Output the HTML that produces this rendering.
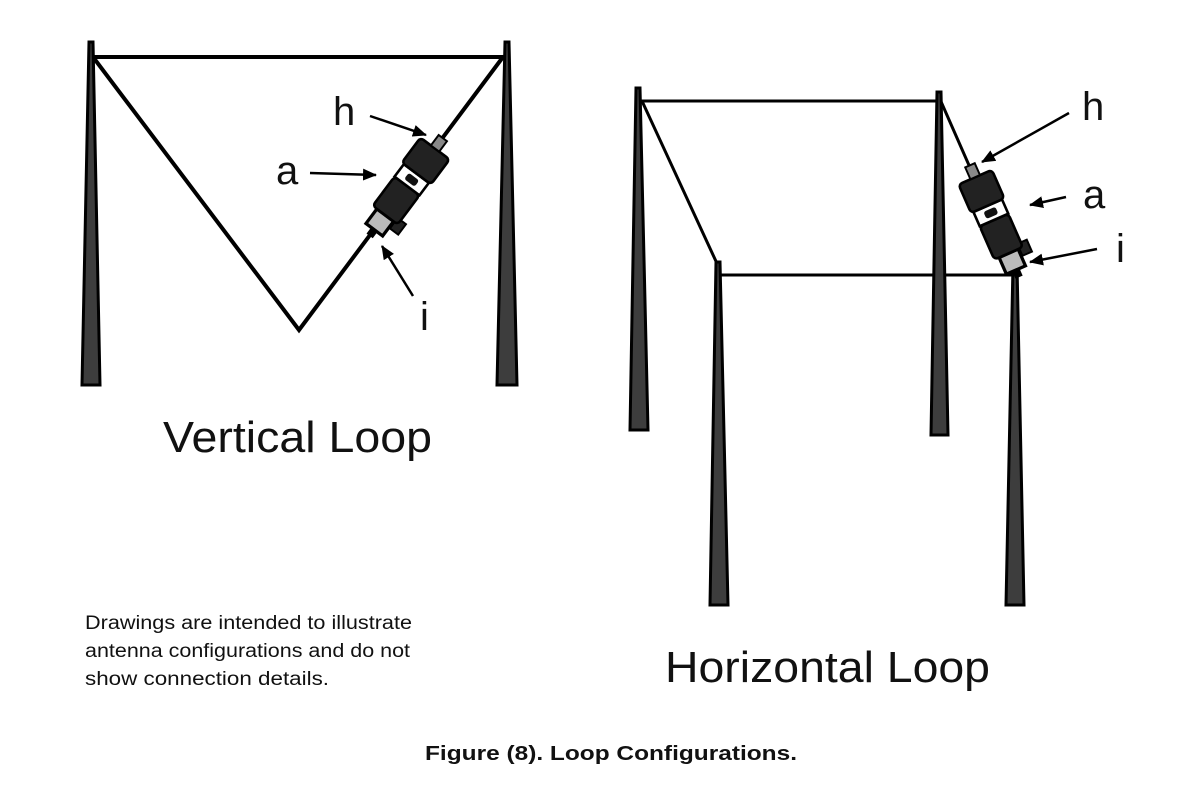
<!DOCTYPE html>
<html><head><meta charset="utf-8"><style>
html,body{margin:0;padding:0;background:#fff}
svg{display:block}
text{font-family:"Liberation Sans",sans-serif;fill:#111}
</style></head><body>
<svg width="1200" height="811" viewBox="0 0 1200 811" xmlns="http://www.w3.org/2000/svg">
<defs>
<marker id="ar" markerWidth="14" markerHeight="12" refX="13" refY="6" orient="auto" markerUnits="userSpaceOnUse"><path d="M0,0 L14,6 L0,12 z" fill="#000"/></marker>
<g id="dev">
  <rect x="-48" y="-3" width="8" height="6" fill="#000"/>
  <rect x="-42" y="-8" width="14" height="16" fill="#bbb" stroke="#000" stroke-width="2.5"/>
  <rect x="-34" y="9" width="10" height="8" fill="#222" stroke="#000" stroke-width="1.5"/>
  <rect x="-28" y="-12" width="28" height="24" rx="3" fill="#222" stroke="#000" stroke-width="2"/>
  <rect x="0" y="-12" width="12" height="24" fill="#fff" stroke="#000" stroke-width="2"/>
  <rect x="3" y="-5" width="6" height="10" rx="2" fill="#111"/>
  <rect x="12" y="-14" width="24" height="28" rx="3" fill="#222" stroke="#000" stroke-width="2"/>
  <rect x="36" y="-4" width="10" height="8" fill="#888" stroke="#000" stroke-width="1.5"/>
</g>
</defs>
<!-- Vertical loop -->
<g stroke="#000" stroke-width="4" fill="none" stroke-linecap="round">
<line x1="91" y1="57" x2="507" y2="57"/>
<polyline points="93,57 299,330 503,57"/>
</g>
<polygon points="89,42 93,42 100,385 82,385" fill="#3d3d3d" stroke="#000" stroke-width="3"/>
<polygon points="505,42 509,42 517,385 497,385" fill="#3d3d3d" stroke="#000" stroke-width="3"/>
<use href="#dev" transform="translate(407,186) rotate(-53.2) scale(1.3)"/>
<text x="333" y="125" font-size="40">h</text>
<text x="276" y="184" font-size="40">a</text>
<text x="420" y="330" font-size="40">i</text>
<g stroke="#000" stroke-width="2.5" marker-end="url(#ar)">
<line x1="370" y1="116" x2="426" y2="135"/>
<line x1="310" y1="173" x2="376" y2="175"/>
<line x1="413" y1="296" x2="382" y2="246"/>
</g>
<text x="163" y="452" font-size="44" textLength="269" lengthAdjust="spacingAndGlyphs">Vertical Loop</text>
<!-- Horizontal loop -->
<g stroke="#000" stroke-width="3" fill="none" stroke-linecap="round">
<line x1="640" y1="101" x2="939" y2="101"/>
<line x1="718" y1="275" x2="1015" y2="275"/>
<line x1="642" y1="101" x2="720" y2="270"/>
<line x1="939" y1="97" x2="1015" y2="270"/>
</g>
<polygon points="636,88 640,88 648,430 630,430" fill="#3d3d3d" stroke="#000" stroke-width="3"/>
<polygon points="937,92 941,92 948,435 931,435" fill="#3d3d3d" stroke="#000" stroke-width="3"/>
<polygon points="716,262 720,262 728,605 710,605" fill="#3d3d3d" stroke="#000" stroke-width="3"/>
<polygon points="1013,265 1017,265 1024,605 1006,605" fill="#3d3d3d" stroke="#000" stroke-width="3"/>
<use href="#dev" transform="translate(994,220) rotate(-113.7) scale(1.3)"/>
<text x="1082" y="120" font-size="40">h</text>
<text x="1083" y="208" font-size="40">a</text>
<text x="1116" y="262" font-size="40">i</text>
<g stroke="#000" stroke-width="2.5" marker-end="url(#ar)">
<line x1="1069" y1="113" x2="982" y2="162"/>
<line x1="1066" y1="197" x2="1030" y2="205"/>
<line x1="1097" y1="249" x2="1030" y2="262"/>
</g>
<text x="665" y="682" font-size="44" textLength="325" lengthAdjust="spacingAndGlyphs">Horizontal Loop</text>
<text x="85" y="629" font-size="19" textLength="327" lengthAdjust="spacingAndGlyphs">Drawings are intended to illustrate</text>
<text x="85" y="657" font-size="19" textLength="325" lengthAdjust="spacingAndGlyphs">antenna configurations and do not</text>
<text x="85" y="685" font-size="19" textLength="244" lengthAdjust="spacingAndGlyphs">show connection details.</text>
<text x="425" y="760" font-size="20" font-weight="bold" textLength="372" lengthAdjust="spacingAndGlyphs">Figure (8).  Loop Configurations.</text>
</svg>
</body></html>
